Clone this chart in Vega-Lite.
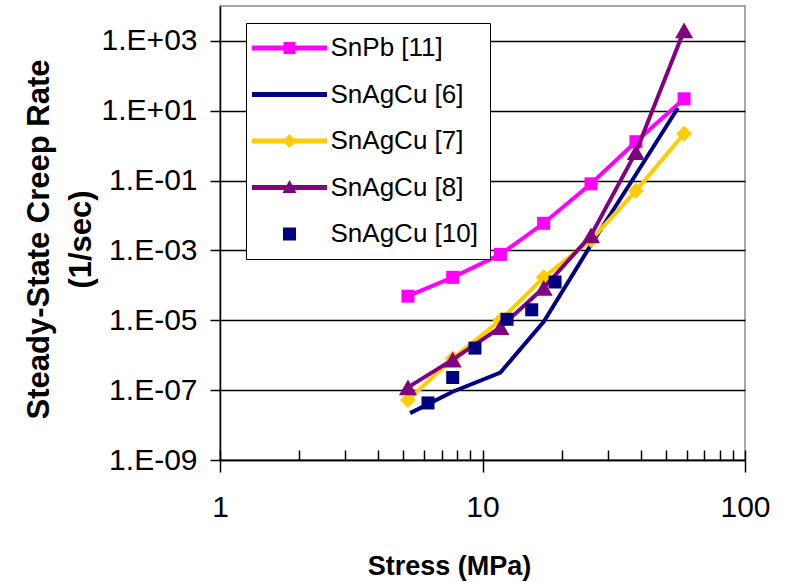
{
  "$schema": "https://vega.github.io/schema/vega-lite/v6.json",
  "width": 525,
  "height": 454,
  "autosize": "none",
  "padding": {"left": 220, "top": 6, "right": 46, "bottom": 122},
  "background": "white",
  "config": {
    "font": "Liberation Sans",
    "view": {"stroke": "#8c8c8c", "strokeWidth": 1.5},
    "axis": {"labelColor": "black", "titleColor": "black", "tickColor": "black", "domainColor": "black", "tickWidth": 1.5, "domainWidth": 1.5}
  },
  "data": {
    "values": [
      {"series": "SnPb [11]", "stress": 5.2, "rate": 4.9e-5},
      {"series": "SnPb [11]", "stress": 7.7, "rate": 1.7e-4},
      {"series": "SnPb [11]", "stress": 11.7, "rate": 7.7e-4},
      {"series": "SnPb [11]", "stress": 17.1, "rate": 6.0e-3},
      {"series": "SnPb [11]", "stress": 25.9, "rate": 0.081},
      {"series": "SnPb [11]", "stress": 38.4, "rate": 1.3},
      {"series": "SnPb [11]", "stress": 58.6, "rate": 22},
      {"series": "SnAgCu [6]", "stress": 5.3, "rate": 2.2e-8},
      {"series": "SnAgCu [6]", "stress": 7.7, "rate": 9e-8},
      {"series": "SnAgCu [6]", "stress": 11.7, "rate": 3.2e-7},
      {"series": "SnAgCu [6]", "stress": 17.1, "rate": 9e-6},
      {"series": "SnAgCu [6]", "stress": 25.9, "rate": 1.45e-3},
      {"series": "SnAgCu [6]", "stress": 38.4, "rate": 0.15},
      {"series": "SnAgCu [6]", "stress": 55.5, "rate": 12},
      {"series": "SnAgCu [7]", "stress": 5.2, "rate": 5.2e-8},
      {"series": "SnAgCu [7]", "stress": 7.7, "rate": 8e-7},
      {"series": "SnAgCu [7]", "stress": 11.7, "rate": 1e-5},
      {"series": "SnAgCu [7]", "stress": 17.1, "rate": 1.7e-4},
      {"series": "SnAgCu [7]", "stress": 25.9, "rate": 2e-3},
      {"series": "SnAgCu [7]", "stress": 38.4, "rate": 0.051},
      {"series": "SnAgCu [7]", "stress": 58.6, "rate": 2.2},
      {"series": "SnAgCu [8]", "stress": 5.2, "rate": 1.2e-7},
      {"series": "SnAgCu [8]", "stress": 7.7, "rate": 7.5e-7},
      {"series": "SnAgCu [8]", "stress": 11.7, "rate": 6.3e-6},
      {"series": "SnAgCu [8]", "stress": 17.1, "rate": 8.5e-5},
      {"series": "SnAgCu [8]", "stress": 25.9, "rate": 2.7e-3},
      {"series": "SnAgCu [8]", "stress": 38.4, "rate": 0.65},
      {"series": "SnAgCu [8]", "stress": 58.6, "rate": 2000},
      {"series": "SnAgCu [10]", "stress": 6.2, "rate": 4.3e-8},
      {"series": "SnAgCu [10]", "stress": 7.7, "rate": 2.3e-7},
      {"series": "SnAgCu [10]", "stress": 9.36, "rate": 1.6e-6},
      {"series": "SnAgCu [10]", "stress": 12.4, "rate": 1.07e-5},
      {"series": "SnAgCu [10]", "stress": 15.4, "rate": 2e-5},
      {"series": "SnAgCu [10]", "stress": 18.9, "rate": 1.25e-4}
    ]
  },
  "resolve": {"axis": {"x": "independent", "y": "independent"}},
  "layer": [
    {
      "transform": [{"filter": "datum.series === 'SnPb [11]'"}],
      "mark": {"type": "line", "color": "#FF00FF", "strokeWidth": 4, "point": {"shape": "square", "size": 169, "filled": true, "color": "#FF00FF", "opacity": 1}},
      "encoding": {
        "x": {"field": "stress", "type": "quantitative", "scale": {"type": "log", "domain": [1, 100], "nice": false},
          "axis": {"orient": "bottom", "values": [1, 10, 100], "format": "d", "tickSize": 12, "labelFontSize": 30, "labelPadding": 20, "labelFlush": false, "labelOverlap": false, "grid": false,
            "title": "Stress (MPa)", "titleFontSize": 27, "titleFontWeight": "bold", "titleX": 229, "titleY": 114, "titleBaseline": "alphabetic"}},
        "y": {"field": "rate", "type": "quantitative", "scale": {"type": "log", "domain": [1e-9, 1e4], "nice": false},
          "axis": {"orient": "left", "values": [1e-9, 1e-7, 1e-5, 1e-3, 1e-1, 10, 1000], "labelExpr": "'1.E' + (datum.value >= 1 ? '+' : '-') + (abs(round(log(datum.value)/LN10)) < 10 ? '0' : '') + abs(round(log(datum.value)/LN10))", "tickSize": 10, "labelFontSize": 30, "labelPadding": 13, "labelFlush": false, "labelOverlap": false,
            "grid": true, "gridColor": "black", "gridWidth": 1.5, "gridOpacity": 1,
            "title": ["Steady-State Creep Rate", "(1/sec)"], "titleFontSize": 31, "titleFontWeight": "bold", "titleLineHeight": 42, "titlePadding": 4, "titleY": 233}}
      }
    },
    {
      "transform": [{"filter": "datum.series === 'SnAgCu [6]'"}],
      "mark": {"type": "line", "color": "#000080", "strokeWidth": 4},
      "encoding": {
        "x": {"field": "stress", "type": "quantitative", "scale": {"type": "log", "domain": [1, 100], "nice": false},
          "axis": {"orient": "bottom", "values": [1, 2, 3, 4, 5, 6, 7, 8, 9, 10, 20, 30, 40, 50, 60, 70, 80, 90, 100], "offset": -10, "tickSize": 10, "labels": false, "domain": false, "grid": false, "title": null}},
        "y": {"field": "rate", "type": "quantitative", "axis": null}
      }
    },
    {
      "transform": [{"filter": "datum.series === 'SnAgCu [7]'"}],
      "mark": {"type": "line", "color": "#FFCC00", "strokeWidth": 4, "point": {"shape": "diamond", "size": 256, "filled": true, "color": "#FFCC00", "opacity": 1}},
      "encoding": {
        "x": {"field": "stress", "type": "quantitative", "axis": null},
        "y": {"field": "rate", "type": "quantitative", "axis": null}
      }
    },
    {
      "transform": [{"filter": "datum.series === 'SnAgCu [8]'"}],
      "mark": {"type": "line", "color": "#800080", "strokeWidth": 4, "point": {"shape": "triangle-up", "size": 324, "filled": true, "color": "#800080", "opacity": 1}},
      "encoding": {
        "x": {"field": "stress", "type": "quantitative", "axis": null},
        "y": {"field": "rate", "type": "quantitative", "axis": null}
      }
    },
    {
      "transform": [{"filter": "datum.series === 'SnAgCu [10]'"}],
      "mark": {"type": "point", "shape": "square", "size": 169, "filled": true, "color": "#000080", "opacity": 1},
      "encoding": {
        "x": {"field": "stress", "type": "quantitative", "axis": null},
        "y": {"field": "rate", "type": "quantitative", "axis": null}
      }
    },
    {
      "transform": [{"filter": "false"}],
      "mark": {"type": "point", "filled": true, "size": 400, "opacity": 1},
      "encoding": {
        "x": {"field": "stress", "type": "quantitative", "axis": null},
        "y": {"field": "rate", "type": "quantitative", "axis": null},
        "color": {"field": "series", "type": "nominal",
          "scale": {"domain": ["SnPb [11]", "SnAgCu [6]", "SnAgCu [7]", "SnAgCu [8]", "SnAgCu [10]"], "range": ["#FF00FF", "#000080", "#FFCC00", "#800080", "#000080"]},
          "legend": {"title": null, "orient": "none", "legendX": 26, "legendY": 17, "padding": 12, "fillColor": "white", "strokeColor": "black",
            "symbolSize": 400, "symbolStrokeWidth": 0, "symbolOffset": 18.5, "labelOffset": 28, "rowPadding": 20.5, "labelFontSize": 26, "labelColor": "black", "labelLimit": 300,
            "encode": {"legend": {"update": {"strokeWidth": {"value": 1.5}}}}}},
        "shape": {"field": "series", "type": "nominal",
          "scale": {"domain": ["SnPb [11]", "SnAgCu [6]", "SnAgCu [7]", "SnAgCu [8]", "SnAgCu [10]"],
            "range": [
              "M-3.75,-0.25H-0.6V-0.6H0.6V-0.25H3.75V0.25H0.6V0.6H-0.6V0.25H-3.75Z",
              "M-3.75,-0.25H3.75V0.25H-3.75Z",
              "M-3.75,-0.25H-0.45L0,-0.7L0.45,-0.25H3.75V0.25H0.45L0,0.7L-0.45,0.25H-3.75Z",
              "M-3.75,-0.25H-0.27L0,-0.75L0.27,-0.25H3.75V0.25H0.54L0.7,0.55H-0.7L-0.54,0.25H-3.75Z",
              "M-0.65,-0.65H0.65V0.65H-0.65Z"
            ]},
          "legend": {"title": null, "orient": "none", "legendX": 26, "legendY": 17, "padding": 12, "fillColor": "white", "strokeColor": "black",
            "symbolSize": 400, "symbolStrokeWidth": 0, "symbolOffset": 18.5, "labelOffset": 28, "rowPadding": 20.5, "labelFontSize": 26, "labelColor": "black", "labelLimit": 300,
            "encode": {"legend": {"update": {"strokeWidth": {"value": 1.5}}}}}}
      }
    }
  ]
}
